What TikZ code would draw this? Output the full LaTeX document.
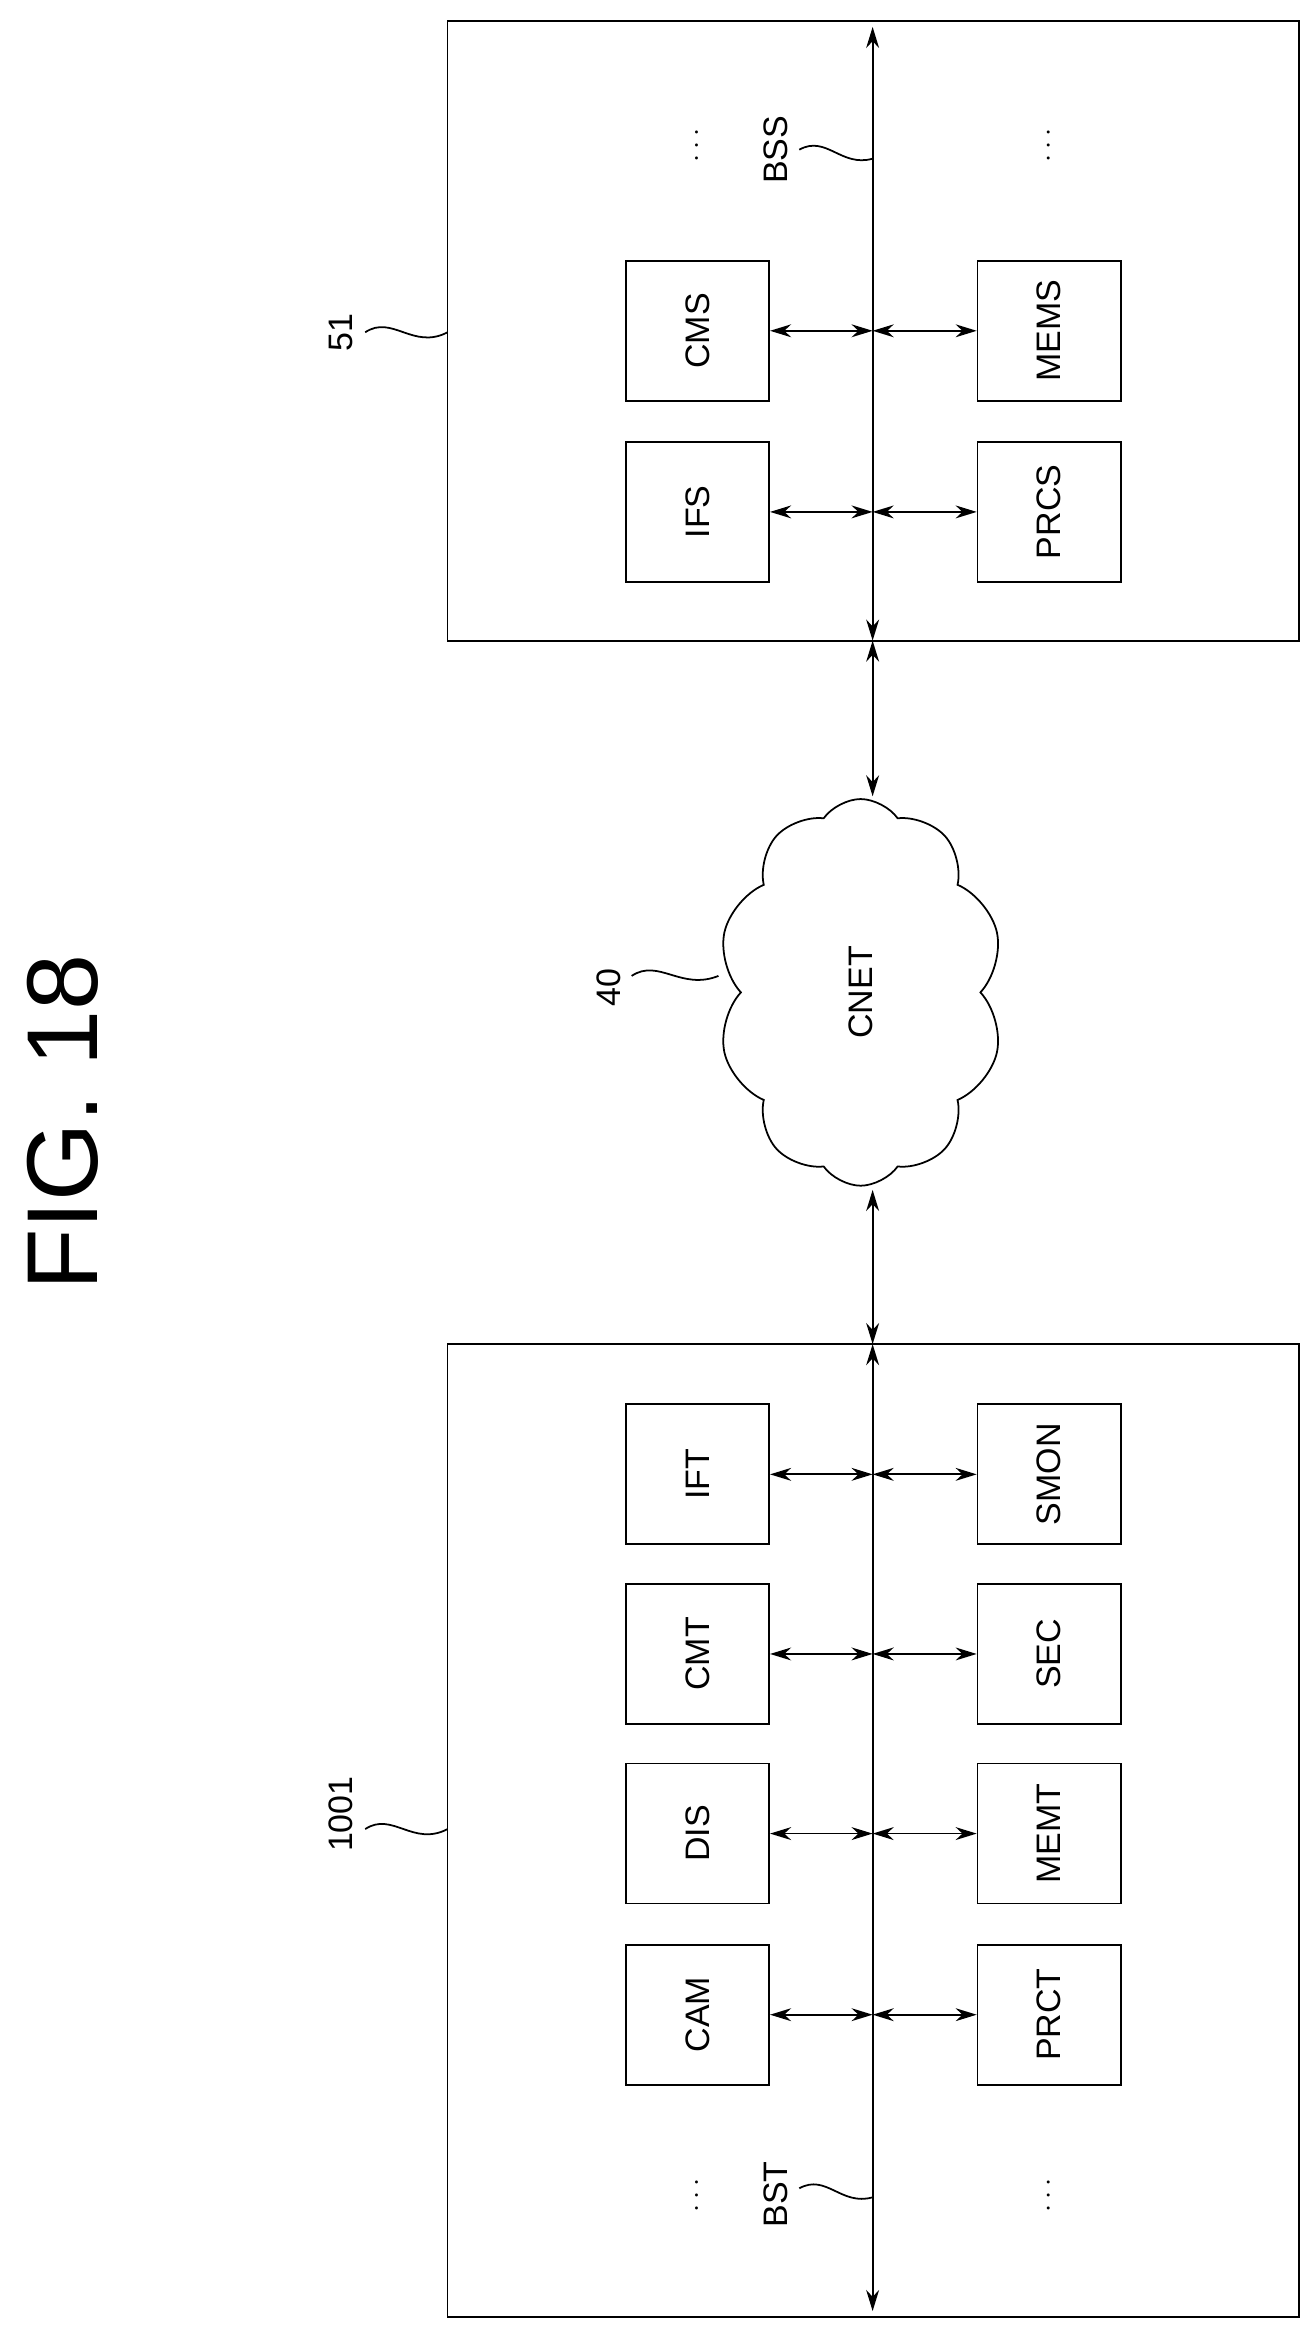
\documentclass[tikz,border=0pt]{standalone}
\usepackage{fontspec}
\setmainfont{Liberation Sans}
\usetikzlibrary{arrows.meta,shapes.symbols}
\begin{document}
\begin{tikzpicture}[x=0.0449cm,y=-0.0449cm,line width=1.5pt,
  blk/.style={draw,minimum width=4.3cm,minimum height=4.2cm,font=\fontsize{29}{32}\selectfont},
  lbl/.style={rotate=90,font=\fontsize{29}{32}\selectfont},
  dbl/.style={{Stealth[length=18pt,width=11pt]}-{Stealth[length=18pt,width=11pt]}}]
\useasboundingbox (0,0) rectangle (876,1556);

	\node[lbl,font=\fontsize{86}{90}\selectfont] (fig) at (42,750) {FIG. 18};

	% server side
	\draw (299,14) rectangle (868,428);
	\coordinate (bsst) at (583,18);
	\coordinate (bssb) at (583,428);
	\draw[dbl] (bsst) -- (bssb);
	\node[blk] (ifs)  at (466,342) {\rotatebox{90}{IFS}};
	\node[blk] (cms)  at (466,221) {\rotatebox{90}{CMS}};
	\node[blk] (prcs) at (701,342) {\rotatebox{90}{PRCS}};
	\node[blk] (mems) at (701,221) {\rotatebox{90}{MEMS}};
	\node[lbl] (dss1) at (466,97) {$\cdots$};
	\node[lbl] (dss2) at (701,97) {$\cdots$};
	\foreach \b in {ifs,cms} \draw[dbl] (\b.east) -- (\b.east -| bsst);
	\foreach \b in {prcs,mems} \draw[dbl] (\b.west) -- (\b.west -| bsst);

	% terminal side
	\draw (299,898) rectangle (868,1548);
	\coordinate (bstt) at (583,898);
	\coordinate (bstb) at (583,1544);
	\draw[dbl] (bstt) -- (bstb);
	\node[blk] (ift)  at (466,985)  {\rotatebox{90}{IFT}};
	\node[blk] (cmt)  at (466,1105) {\rotatebox{90}{CMT}};
	\node[blk] (dis)  at (466,1225) {\rotatebox{90}{DIS}};
	\node[blk] (cam)  at (466,1346) {\rotatebox{90}{CAM}};
	\node[blk] (smon) at (701,985)  {\rotatebox{90}{SMON}};
	\node[blk] (sec)  at (701,1105) {\rotatebox{90}{SEC}};
	\node[blk] (memt) at (701,1225) {\rotatebox{90}{MEMT}};
	\node[blk] (prct) at (701,1346) {\rotatebox{90}{PRCT}};
	\node[lbl] (dst1) at (466,1467) {$\cdots$};
	\node[lbl] (dst2) at (701,1467) {$\cdots$};
	\foreach \b in {ift,cmt,dis,cam} \draw[dbl] (\b.east) -- (\b.east -| bstt);
	\foreach \b in {smon,sec,memt,prct} \draw[dbl] (\b.west) -- (\b.west -| bstt);

	% network
	\node[cloud,draw,cloud puffs=10,cloud puff arc=110,minimum width=8.6cm,minimum height=11.6cm] (net) at (575,663) {};
	\node[lbl] (cnet) at (575,663) {CNET};
	\draw[dbl] (bssb) -- (583,532);
	\draw[dbl] (583,795) -- (bstt);

	% reference labels
	\node[lbl] (r51) at (228,222) {51};
	\draw (244,222) .. controls (262,210) and (276,234) .. (299,222);
	\node[lbl] (r1001) at (228,1212) {1001};
	\draw (244,1222) .. controls (262,1210) and (276,1234) .. (299,1222);
	\node[lbl] (rbss) at (518,100) {BSS};
	\draw (534,100) .. controls (552,90) and (562,112) .. (583,106);
	\node[lbl] (rbst) at (518,1466) {BST};
	\draw (534,1462) .. controls (552,1452) and (562,1474) .. (583,1468);
	\node[lbl] (r40) at (407,660) {40};
	\draw (422,652) .. controls (440,640) and (455,662) .. (480,652);

\end{tikzpicture}
\end{document}
